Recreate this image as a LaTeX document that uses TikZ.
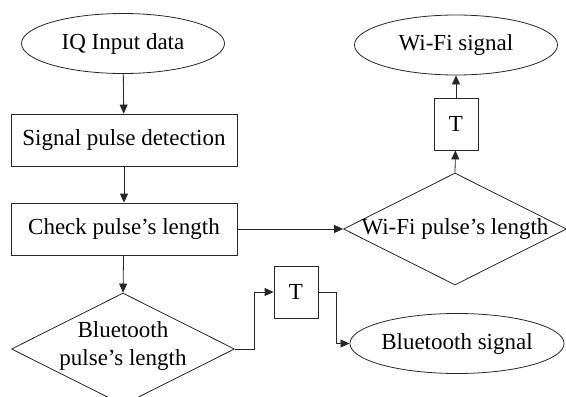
\documentclass[tikz,border=0pt]{standalone}
\usepackage{fontspec}
\setmainfont{Liberation Serif}
\usetikzlibrary{shapes.geometric,arrows.meta}
\tikzset{
  base/.style={draw=black!85, line width=0.8pt, font=\fontsize{23}{27}\selectfont, inner sep=0pt},
  oval/.style={base, ellipse, minimum width=203pt, minimum height=60pt},
  box/.style={base, rectangle, minimum width=226pt, minimum height=52pt},
  tbox/.style={base, rectangle, minimum width=44pt, minimum height=52pt},
  dia/.style={base, diamond, minimum width=223pt, minimum height=112pt},
  lbl/.style={font=\fontsize{23}{28}\selectfont, inner sep=0pt, align=center},
  conn/.style={draw=black!85, line width=0.8pt, -{Triangle[length=9pt,width=8pt]}}
}
\begin{document}
\begin{tikzpicture}[x=1pt,y=-1pt]
\useasboundingbox (0,0) rectangle (566,397);
\node[oval] (iq) at (123,43.5) {IQ Input data};
\node[box] (spd) at (124,140) {Signal pulse detection};
\node[box] (chk) at (124,229) {Check pulse’s length};
\node[dia] (bd) at (123,349) {};
\node[lbl] (bdt) at (123,346) {Bluetooth\\pulse’s length};
\node[dia] (wd) at (455,229) {};
\node[lbl] (wdt) at (455,229) {Wi-Fi pulse’s length};
\node[tbox] (t1) at (456,124) {T};
\node[oval] (wf) at (456,45) {Wi-Fi signal};
\node[tbox] (t2) at (296,292) {T};
\node[oval] (bs) at (457,343.5) {Bluetooth signal};
\draw[conn] (iq) -- (spd);
\draw[conn] (spd) -- (chk);
\draw[conn] (chk) -- (bd.north);
\draw[conn] (chk.east) -- (wd.west);
\draw[conn] (wd.north) -- (t1);
\draw[conn] (t1) -- (wf);
\draw[conn] (bd.east) -- ++(19,0) |- (t2.west);
\draw[conn] (t2.east) -- ++(18,0) |- (bs.west);
\end{tikzpicture}
\end{document}
